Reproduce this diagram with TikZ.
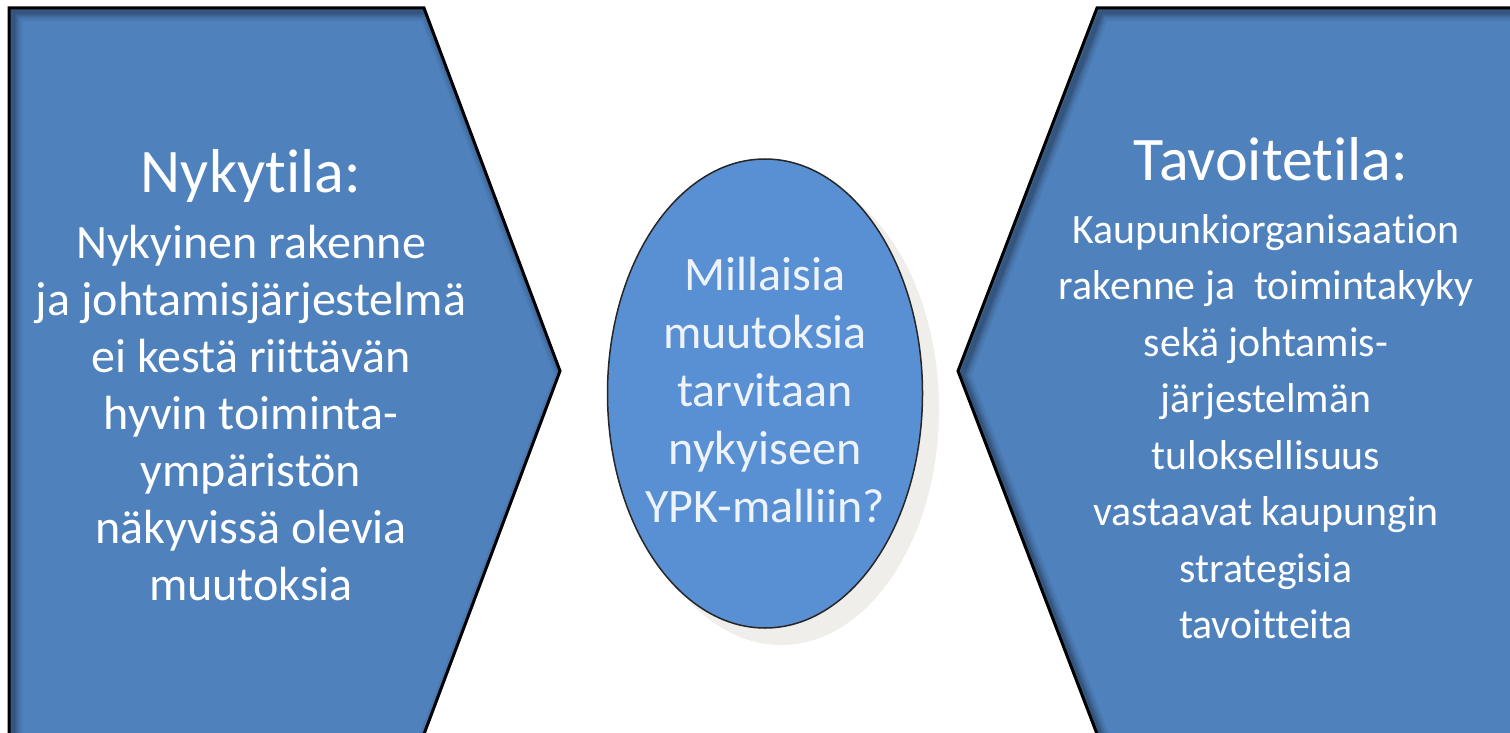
\documentclass[tikz,border=0pt]{standalone}
\usepackage{fontspec}
\setmainfont{Carlito}[Ligatures={NoCommon}]
\definecolor{shapeblue}{HTML}{4F81BD}
\definecolor{ellblue}{HTML}{5990D3}
\definecolor{shadowgrey}{HTML}{EFEEEA}
\definecolor{elltext}{HTML}{EEF3FA}
\tikzset{
  arrowshape/.style={fill=shapeblue},
  outline/.style={draw=black, line width=3pt, line join=miter},
  innershade/.style={draw=black, line width=#1},
  blocktext/.style={text=white, align=center, anchor=base, inner sep=0pt},
}
\begin{document}
\begin{tikzpicture}[x=1pt,y=-1pt]
\useasboundingbox (0,0) rectangle (1510,733);
\clip (0,0) rectangle (1510,733);
\fill[white] (0,0) rectangle (1510,733);

% left shape
\fill[arrowshape] (9,8) -- (424,8) -- (560,371) -- (421.8,740) -- (9,740) -- cycle;
\begin{scope}
  \clip (9,8) -- (424,8) -- (560,371) -- (421.8,740) -- (9,740) -- cycle;
  \foreach \w/\o in {18/0.06, 13/0.08, 9/0.1, 5/0.14} {
    \draw[innershade=\w pt, opacity=\o, shift={(4,4)}] (9,8) -- (424,8) -- (560,371) -- (421.8,740) -- (9,740) -- cycle;
  }
\end{scope}
\draw[outline] (9,740) -- (9,8) -- (424,8) -- (560,371) -- (421.8,740);

% right shape
\fill[arrowshape] (1520,8) -- (1097,8) -- (958,371) -- (1099.3,740) -- (1520,740) -- cycle;
\begin{scope}
  \clip (1520,8) -- (1097,8) -- (958,371) -- (1099.3,740) -- (1520,740) -- cycle;
  \foreach \w/\o in {18/0.06, 13/0.08, 9/0.1, 5/0.14} {
    \draw[innershade=\w pt, opacity=\o, shift={(4,4)}] (1520,8) -- (1097,8) -- (958,371) -- (1099.3,740) -- (1520,740) -- cycle;
  }
\end{scope}
\draw[outline] (1520,8) -- (1097,8) -- (958,371) -- (1099.3,740);

% centre ellipse with shadow
\fill[shadowgrey] (781,409) ellipse [x radius=158, y radius=236];
\filldraw[fill=ellblue, draw=black!85, line width=1.5pt] (765,393.5) ellipse [x radius=157.5, y radius=234.5];

% texts (anchor base = baseline of last line)
\node[blocktext, font=\fontsize{62}{70}\selectfont] (lefttitle) at (251,192) {Nykytila:};
\node[blocktext, font=\fontsize{48}{57}\selectfont] (leftbody) at (251,600) {Nykyinen rakenne\\ja johtamisjärjestelmä\\ei kestä riittävän\\hyvin toiminta-\\ympäristön\\näkyvissä olevia\\muutoksia};

\node[blocktext, font=\fontsize{62}{70}\selectfont] (righttitle) at (1271,180) {Tavoitetila:};
\node[blocktext, font=\fontsize{41.8}{56.5}\selectfont] (rightbody) at (1266,638.5) {Kaupunkiorganisaation\\rakenne ja~~toimintakyky\\sekä johtamis-\\järjestelmän\\tuloksellisuus\\vastaavat kaupungin\\strategisia\\tavoitteita};

\node[blocktext, text=elltext, font=\fontsize{48}{58}\selectfont] (question) at (765,522) {Millaisia\\muutoksia\\tarvitaan\\nykyiseen\\YPK-malliin?};
\end{tikzpicture}
\end{document}
